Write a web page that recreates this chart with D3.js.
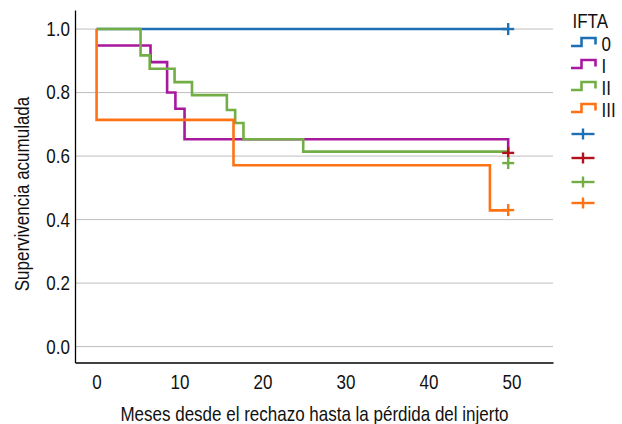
<!DOCTYPE html>
<html>
<head>
<meta charset="utf-8">
<script src="https://cdn.jsdelivr.net/npm/d3@7"></script>
<style>
  body { margin: 0; background: #fff; }
  text { font-family: "Liberation Sans", Arial, sans-serif; fill: #111; }
</style>
</head>
<body>
<script>
// survival curves, one per IFTA group
const groups = ["0", "I", "II", "III"];
const colors = ["#1f6fb4", "#a8189f", "#72ae45", "#ff7214"];
const censorColors = ["#1f6fb4", "#b3121c", "#72ae45", "#ff7214"];

const times0 = [0, 49.6];
const surv0 = [1, 1];
const timesI = [0, 6.5, 8.5, 9.5, 10.6, 49.6];
const survI = [0.948, 0.896, 0.80, 0.749, 0.653, 0.61];
const timesII = [0, 5.3, 6.4, 9.4, 11.5, 15.7, 16.7, 17.7, 24.9, 49.6];
const survII = [1, 0.917, 0.875, 0.833, 0.792, 0.745, 0.704, 0.653, 0.614, 0.614];
const timesIII = [0, 0, 16.5, 47.4, 49.6];
const survIII = [1, 0.714, 0.571, 0.429, 0.429];

// censored marks at last follow-up
const censorTimes = [49.6, 49.6, 49.6, 49.6];
const censorSurv = [1.0, 0.61, 0.578, 0.43];

const xTicks = [0, 10, 20, 30, 40, 50];
const yTicks = [0, 0.2, 0.4, 0.6, 0.8, 1.0];

const series = [
  {t: times0, s: surv0},
  {t: timesI, s: survI},
  {t: timesII, s: survII},
  {t: timesIII, s: survIII}
];

// text in the picture is a condensed sans, fake it with a squeeze
const SQ = 0.85;
const FS = "20px";

var width = 622, height = 424;

var svg = d3.select("body").append("svg")
    .attr("width", width)
    .attr("height", height);

var x = d3.scaleLinear().domain([-2.6, 55]).range([75, 553]);
var y = d3.scaleLinear().domain([-0.05, 1.06]).range([362.5, 10]);

// gridlines
svg.append("g").selectAll("line")
    .data(yTicks)
  .enter().append("line")
    .attr("x1", x.range()[0])
    .attr("x2", x.range()[1])
    .attr("y1", d => y(d))
    .attr("y2", d => y(d))
    .attr("stroke", "#bdbdbd")
    .attr("stroke-width", 1);

// axes without tick marks
var xAxis = svg.append("g")
    .attr("transform", "translate(0," + y.range()[0] + ")")
    .call(d3.axisBottom(x).tickValues(xTicks).tickSize(0).tickPadding(12).tickFormat(d3.format("d")));
var yAxis = svg.append("g")
    .attr("transform", "translate(" + x.range()[0] + ",0)")
    .call(d3.axisLeft(y).tickValues(yTicks).tickSize(0).tickPadding(6).tickFormat(d3.format(".1f")));

[xAxis, yAxis].forEach(a => {
  a.select(".domain").attr("stroke", "#000").attr("stroke-width", 1.3);
  a.selectAll("text")
    .attr("fill", "#111")
    .attr("transform", "scale(" + SQ + ",1)")
    .style("font-size", FS)
    .style("font-family", '"Liberation Sans", Arial, sans-serif');
});
xAxis.selectAll("text").attr("dy", null).attr("y", 26.5);

// axis titles
svg.append("text")
    .attr("transform", "translate(314.5,421) scale(" + SQ + ",1)")
    .attr("text-anchor", "middle")
    .style("font-size", FS)
    .text("Meses desde el rechazo hasta la pérdida del injerto");

svg.append("text")
    .attr("transform", "translate(28.5,194) rotate(-90) scale(" + SQ + ",1)")
    .attr("text-anchor", "middle")
    .style("font-size", FS)
    .text("Supervivencia acumulada");

// step curves
var line = d3.line()
    .x(d => x(d[0]))
    .y(d => y(d[1]))
    .curve(d3.curveStepAfter);

series.forEach((ser, i) => {
  svg.append("path")
      .datum(ser.t.map((t, j) => [t, ser.s[j]]))
      .attr("fill", "none")
      .attr("stroke", colors[i])
      .attr("stroke-width", 2.6)
      .attr("d", line);
});

// censor marks
function plus(g, cx, cy, w, h, color) {
  g.append("line").attr("x1", cx - w / 2).attr("x2", cx + w / 2)
    .attr("y1", cy).attr("y2", cy).attr("stroke", color).attr("stroke-width", 2.4);
  g.append("line").attr("x1", cx).attr("x2", cx)
    .attr("y1", cy - h / 2).attr("y2", cy + h / 2).attr("stroke", color).attr("stroke-width", 2.4);
}

var marks = svg.append("g");
censorTimes.forEach((t, i) => {
  plus(marks, x(t), y(censorSurv[i]), 12, 12, censorColors[i]);
});

// legend
var legend = svg.append("g").attr("transform", "translate(571,0)");
legend.append("text")
    .attr("transform", "translate(1.5,28.3) scale(" + SQ + ",1)")
    .style("font-size", FS)
    .text("IFTA");

var rowY = [50.5, 72.5, 94.5, 116.5];
groups.forEach((g, i) => {
  var base = rowY[i];
  legend.append("path")
      .attr("d", "M0," + (base - 4.5) + "H10.5V" + (base - 12.5) + "H24.5V" + (base - 6))
      .attr("fill", "none")
      .attr("stroke", colors[i])
      .attr("stroke-width", 2.6);
  legend.append("text")
      .attr("transform", "translate(30.5," + base + ") scale(" + SQ + ",1)")
      .style("font-size", FS)
      .text(g);
});

var plusY = [134, 158, 182, 203];
censorColors.forEach((c, i) => {
  plus(legend, 12, plusY[i], 23, 11, c);
});
</script>
</body>
</html>
